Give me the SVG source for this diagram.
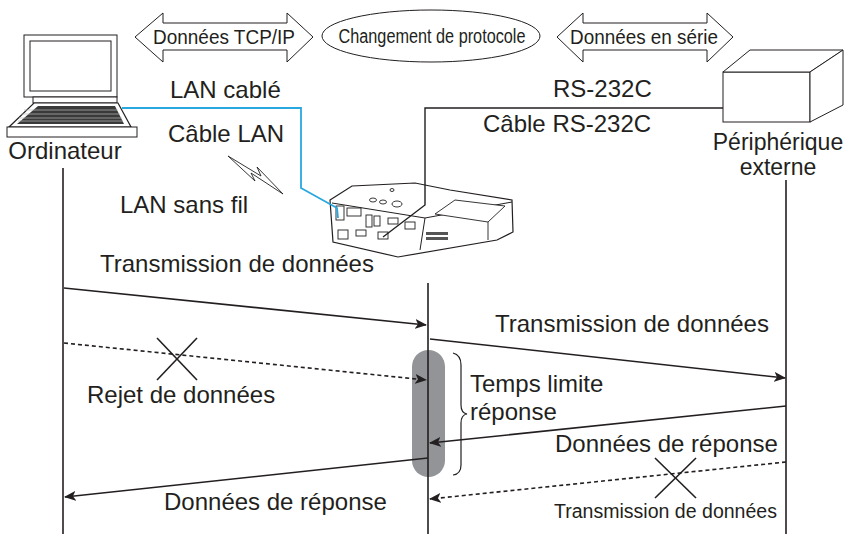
<svg xmlns="http://www.w3.org/2000/svg" width="851" height="539" viewBox="0 0 851 539">
<style>
text{font-family:"Liberation Sans",Arial,sans-serif;fill:#231f20}
.t{font-size:24px}
.n{font-size:20px}
.ln{stroke:#231f20;stroke-width:1.6;fill:none}
.th{stroke:#231f20;stroke-width:1;fill:#fff}
.ar{stroke:#231f20;stroke-width:1.6;fill:none;marker-end:url(#ah)}
.da{stroke:#231f20;stroke-width:1.6;fill:none;stroke-dasharray:4 3;marker-end:url(#ah)}
</style>
<defs>
<marker id="ah" viewBox="0 0 12 10" refX="11" refY="5" markerWidth="12" markerHeight="10" markerUnits="userSpaceOnUse" orient="auto">
<path d="M0,0 L12,5 L0,10 L3,5 Z" fill="#231f20"/>
</marker>
</defs>
<rect width="851" height="539" fill="#fff"/>

<g id="tcp">
<path class="th" d="M135,37 L163,13 L163,23 L287,23 L287,13 L313,37 L287,62 L287,50 L163,50 L163,62 Z"/>
<text class="n" x="224" y="44" text-anchor="middle" textLength="142" lengthAdjust="spacingAndGlyphs">Données TCP/IP</text>
</g>
<g id="protocole">
<ellipse cx="431" cy="36" rx="109" ry="26" class="th"/>
<text class="n" x="432" y="43" text-anchor="middle" textLength="187" lengthAdjust="spacingAndGlyphs">Changement de protocole</text>
</g>
<g id="serie">
<path class="th" d="M557,37 L583,13 L583,23 L707,23 L707,13 L733,37 L707,62 L707,50 L583,50 L583,62 Z"/>
<text class="n" x="644" y="44" text-anchor="middle" textLength="148" lengthAdjust="spacingAndGlyphs">Données en série</text>
</g>

<g id="ordinateur">
<rect x="24" y="35" width="93" height="62" class="th" stroke-width="1.5"/>
<rect x="30" y="41" width="81" height="50" class="th"/>
<rect x="33" y="97" width="84" height="6" class="th"/>
<path d="M34,103 L118,103 L131,127 L9,127 Z" fill="#fff" stroke="#231f20" stroke-width="1.2"/>
<path d="M38,106 L115,106 L124,124 L17,124 Z" fill="#3a3a3a"/>
<g stroke="#bbb" stroke-width="0.7">
<line x1="24" y1="110" x2="118" y2="110"/><line x1="21" y1="114" x2="120" y2="114"/><line x1="19" y1="118" x2="122" y2="118"/><line x1="18" y1="121" x2="123" y2="121"/>
</g>
<rect x="7" y="127" width="130" height="10" class="th" stroke-width="1.2"/>
<text class="t" x="65" y="159" text-anchor="middle">Ordinateur</text>
</g>

<g id="peripherique">
<rect x="723" y="72" width="87" height="50" class="th"/>
<path class="th" d="M723,72 L750,50 L843,50 L810,72 Z"/>
<path class="th" d="M810,72 L843,50 L843,105 L810,122 Z"/>
<text x="778" y="150" text-anchor="middle" font-size="23">Périphérique</text>
<text x="778" y="175" text-anchor="middle" font-size="23">externe</text>
</g>

<g id="projecteur">
<path d="M330,200 L352,186 L415,183 L450,190 L512,200 L513,232 L497,240 L398,257 L333,242 Z" fill="#fff" stroke="#231f20" stroke-width="1.2"/>
<path d="M332,203 L425,218 L512,202" fill="none" stroke="#231f20" stroke-width="1"/>
<path d="M425,218 L420,250" stroke="#231f20" stroke-width="1"/>
<path d="M435,214 L455,200 L505,206 L488,222 Z" fill="#fff" stroke="#231f20" stroke-width="0.9"/>
<path d="M488,222 L488,240" stroke="#231f20" stroke-width="0.9"/>
<g fill="#fff" stroke="#231f20" stroke-width="0.9">
<ellipse cx="373" cy="200" rx="3.5" ry="2"/><ellipse cx="383" cy="202" rx="3.5" ry="2"/><ellipse cx="397" cy="204" rx="5" ry="3"/><ellipse cx="392" cy="190" rx="2" ry="1.5"/>
<rect x="336" y="206" width="8" height="14"/><rect x="347" y="208" width="14" height="8"/>
<rect x="366" y="215" width="6" height="12"/><rect x="374" y="216" width="6" height="10"/>
<rect x="388" y="218" width="10" height="6"/><rect x="405" y="222" width="10" height="7"/>
<rect x="338" y="230" width="10" height="9"/><rect x="356" y="230" width="10" height="6"/><rect x="378" y="232" width="10" height="7"/>
</g>
<g fill="#555"><rect x="426" y="232" width="22" height="3"/><rect x="426" y="237" width="22" height="3"/></g>
</g>

<g id="cables" fill="none">
<path d="M122,108 L301,108 L301,188 L337,208 L338,218" stroke="#29a8e0" stroke-width="1.8"/>
<path d="M723,108 L425,108 L425,205 L383,237" stroke="#231f20" stroke-width="1.4"/>
<path d="M228,156 L261,176 L257,167 L283,194 L251,173 L255,181 Z" fill="#fff" stroke="#231f20" stroke-width="0.9"/>
</g>

<g id="labels">
<text class="t" x="170" y="98">LAN cablé</text>
<text class="t" x="168" y="142">Câble LAN</text>
<text class="t" x="120" y="213">LAN sans fil</text>
<text class="t" x="553" y="97">RS-232C</text>
<text class="t" x="483" y="132">Câble RS-232C</text>
<text class="t" x="100" y="272">Transmission de données</text>
</g>

<g id="lifelines" class="ln">
<line x1="63" y1="168" x2="63" y2="534"/>
<line x1="428" y1="283" x2="428" y2="534"/>
<line x1="786" y1="180" x2="786" y2="534"/>
</g>

<g id="timeout">
<rect x="412" y="350" width="33" height="127" rx="16.5" fill="#929497"/>
<line x1="428" y1="350" x2="428" y2="477" stroke="#231f20" stroke-width="1.6"/>
<path d="M453,353 Q461,355 461,365 L461,405 Q461,413 467,414 Q461,415 461,423 L461,465 Q461,474 453,475" fill="none" stroke="#231f20" stroke-width="1.2"/>
<text class="t" x="470" y="392">Temps limite</text>
<text class="t" x="470" y="420">réponse</text>
</g>

<g id="connectors">
<line class="ar" x1="64" y1="288" x2="426" y2="325"/>
<line class="ar" x1="430" y1="339" x2="785" y2="378"/>
<line class="da" x1="64" y1="343" x2="426" y2="380"/>
<line class="ar" x1="786" y1="406" x2="430" y2="443"/>
<line class="ar" x1="428" y1="458" x2="65" y2="497"/>
<line class="da" x1="786" y1="462" x2="430" y2="499"/>
<g class="ln" stroke-width="1.2">
<line x1="157" y1="338" x2="197" y2="380"/><line x1="197" y1="338" x2="157" y2="380"/>
<line x1="655" y1="458" x2="696" y2="498"/><line x1="696" y1="458" x2="655" y2="498"/>
</g>
</g>

<g id="msglabels">
<text class="t" x="87" y="403">Rejet de données</text>
<text class="t" x="495" y="332">Transmission de données</text>
<text class="t" x="555" y="452">Données de réponse</text>
<text class="t" x="164" y="510">Données de réponse</text>
<text class="n" x="554" y="518" textLength="223" lengthAdjust="spacingAndGlyphs">Transmission de données</text>
</g>
</svg>
